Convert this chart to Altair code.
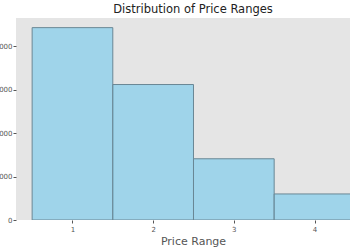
import altair as alt
import pandas as pd

price_range = [1, 2, 3, 4]
counts = [4430, 3120, 1410, 600]
y_ticks = [0, 1000, 2000, 3000, 4000]
x_ticks = [1, 2, 3, 4]

df = pd.DataFrame({"price_range": price_range, "count": counts})

bars = alt.Chart(df).transform_calculate(
    start="datum.price_range - 0.5",
    end="datum.price_range + 0.5",
).mark_bar(
    fill="#87CEEB", fillOpacity=0.75, stroke="#6a8795", strokeWidth=1, clip=True
).encode(
    x=alt.X("start:Q",
            scale=alt.Scale(domain=[0.3, 4.44], nice=False, zero=False),
            axis=alt.Axis(values=x_ticks, format="d", title="Price Range",
                          titleX=177, titleY=15, labelFontSize=7, labelColor="#555555",
                          tickColor="#555555", tickSize=3, labelPadding=2,
                          domain=False, grid=False, titleFontSize=11,
                          titleColor="#555555", titleFontWeight="normal",
                          titleFont="DejaVu Sans", labelFont="DejaVu Sans")),
    x2="end:Q",
    y=alt.Y("count:Q",
            scale=alt.Scale(domain=[0, 4652], nice=False),
            axis=alt.Axis(values=y_ticks, title=None, labelFontSize=7,
                          labelColor="#555555", tickColor="#555555", tickSize=3,
                          labelPadding=1, domain=False, grid=False,
                          labelFont="DejaVu Sans")),
    y2=alt.datum(0),
)

chart = bars.properties(
    width=334,
    height=202,
    title=alt.TitleParams("Distribution of Price Ranges", fontSize=11.5,
                          font="DejaVu Sans", fontWeight="normal", color="#222222",
                          anchor="middle", dx=10, offset=3),
    autosize=alt.AutoSizeParams(type="none"),
    padding={"left": 16, "top": 18, "right": 0, "bottom": 30},
).configure_view(fill="#E5E5E5", stroke=None)

chart.save("out.html", embed_options={"renderer": "svg", "actions": False})
